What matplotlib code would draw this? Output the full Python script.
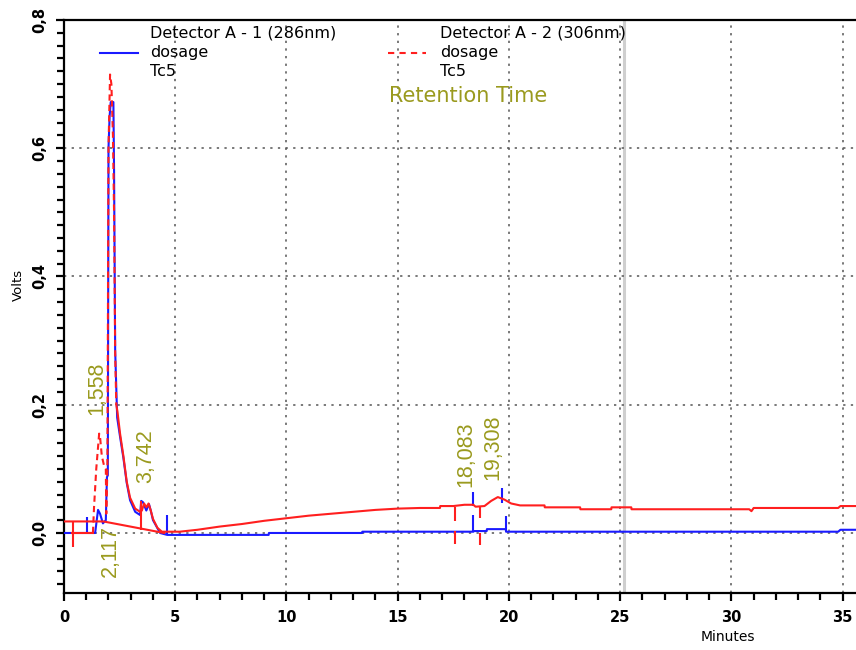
import numpy as np
import matplotlib
matplotlib.use("Agg")
import matplotlib.pyplot as plt
from matplotlib.lines import Line2D
from matplotlib.ticker import MultipleLocator, FuncFormatter

plt.rcParams['font.family'] = ['DejaVu Sans']

# Detector A - 1 (286 nm) trace
blue_t = [0.0, 1.40, 1.53, 1.62, 1.75, 1.88, 1.93, 1.97, 2.00, 2.05, 2.10, 2.22, 2.25, 2.30,
          2.39, 2.52, 2.67, 2.82, 2.97, 3.20, 3.42, 3.47, 3.55, 3.70, 3.82, 3.90, 4.00, 4.32,
          4.64, 9.20, 9.21, 13.40, 13.41, 18.40, 18.41, 19.00, 19.01, 19.86, 19.87, 34.80, 34.90, 35.70]
blue_v = [0.0, 0.0, 0.036, 0.030, 0.015, 0.020, 0.087, 0.090, 0.600, 0.650, 0.672, 0.672, 0.566, 0.285,
          0.180, 0.150, 0.117, 0.078, 0.051, 0.033, 0.028, 0.050, 0.048, 0.035, 0.045, 0.035, 0.020, 0.000,
          -0.003, -0.003, 0.0, 0.0, 0.002, 0.002, 0.003, 0.003, 0.006, 0.006, 0.002, 0.002, 0.005, 0.005]

# Detector A - 2 (306 nm) trace
red_t = [0.35, 1.30, 1.35, 1.45, 1.58, 1.62, 1.70, 1.80, 1.88, 1.90, 1.95, 2.00, 2.07, 2.13, 2.20,
         2.25, 2.30, 2.35, 2.40, 2.52, 2.67, 2.82, 2.97, 3.20, 3.42, 3.50, 3.60, 3.70, 3.80, 3.90,
         4.00, 4.20, 4.40, 5.20, 6.0, 7.0, 8.0, 9.0, 10.0, 11.0, 12.0, 13.0, 14.0, 15.0, 16.0, 16.9,
         16.91, 17.5, 18.0, 18.4, 18.5, 18.9, 19.2, 19.5, 19.8, 20.1, 20.5, 21.6, 21.61, 23.2, 23.21,
         24.6, 24.61, 25.5, 25.51, 30.8, 30.9, 31.0, 34.8, 34.9, 35.7]
red_v = [0.0, 0.0, 0.040, 0.100, 0.155, 0.150, 0.120, 0.105, 0.100, 0.030, 0.100, 0.600, 0.715, 0.700, 0.620,
         0.500, 0.280, 0.200, 0.190, 0.155, 0.120, 0.080, 0.055, 0.038, 0.033, 0.035, 0.046, 0.040, 0.046, 0.035,
         0.022, 0.008, 0.002, 0.002, 0.005, 0.010, 0.014, 0.019, 0.023, 0.027, 0.030, 0.033, 0.036, 0.038, 0.039, 0.039,
         0.042, 0.042, 0.044, 0.044, 0.041, 0.042, 0.050, 0.056, 0.052, 0.046, 0.043, 0.043, 0.040, 0.040, 0.037,
         0.037, 0.040, 0.040, 0.037, 0.037, 0.034, 0.039, 0.039, 0.042, 0.042]

# Integration baseline drawn under the first peak group
red_base_t = [0.0, 1.77, 4.5]
red_base_v = [0.018, 0.018, 0.0]

# Peak event markers: time, lower and upper value
blue_mark_t = [1.04, 4.64, 18.40, 18.40, 19.70, 19.86]
blue_mark_lo = [0.000, -0.003, 0.042, 0.003, 0.047, 0.003]
blue_mark_hi = [0.025, 0.028, 0.064, 0.028, 0.070, 0.027]
red_mark_t = [0.40, 3.47, 17.57, 17.57, 18.70, 18.70]
red_mark_lo = [-0.022, 0.005, 0.019, -0.017, 0.023, -0.019]
red_mark_hi = [0.018, 0.050, 0.041, 0.003, 0.042, 0.000]

# Retention time labels
peak_labels = ["1,558", "2,117", "3,742", "18,083", "19,308"]
peak_label_t = [1.49, 2.07, 3.69, 18.06, 19.28]
peak_label_v = [0.184, -0.069, 0.078, 0.072, 0.083]

cursor_t = 25.15

BLUE = "#1a1aff"
RED = "#ff1f1f"
OLIVE = "#9a9a1e"

W, H = 856, 650
fig = plt.figure(figsize=(W / 100, H / 100), dpi=100)
ax_l, ax_r, ax_top, ax_bot = 64, 856, 20, 593
ax = fig.add_axes([ax_l / W, 1 - ax_bot / H, (ax_r - ax_l) / W, (ax_bot - ax_top) / H])

ax.set_xlim(0, 35.6)
ax.set_ylim(-0.0936, 0.8)

ax.axvline(cursor_t, color="#cfcfcf", lw=2.2, zorder=1)

grid_kw = dict(color="#555555", lw=1.1, ls=(0, (1.5, 3.5)), zorder=1)
for gx in [5, 10, 15, 20, 25, 30, 35]:
    ax.axvline(gx, **grid_kw)
for gy in [0.0, 0.2, 0.4, 0.6]:
    ax.axhline(gy, **grid_kw)

lw = 1.5
ax.plot(blue_t, blue_v, color=BLUE, lw=lw, zorder=3)
ax.vlines(blue_mark_t, blue_mark_lo, blue_mark_hi, color=BLUE, lw=lw, zorder=3)

rt = np.array(red_t)
rv = np.array(red_v)
dash_zone = (rt >= 1.30) & (rt <= 2.35)
solid_a = rt <= 1.30
solid_b = rt >= 2.35
ax.plot(rt[solid_a], rv[solid_a], color=RED, lw=lw, zorder=4)
ax.plot(rt[dash_zone], rv[dash_zone], color=RED, lw=lw, ls=(0, (3, 2)), zorder=4)
ax.plot(rt[solid_b], rv[solid_b], color=RED, lw=lw, zorder=4)
ax.plot(red_base_t, red_base_v, color=RED, lw=lw, zorder=4)
ax.vlines(red_mark_t, red_mark_lo, red_mark_hi, color=RED, lw=lw, zorder=4)

label_font = ['Liberation Sans', 'DejaVu Sans']
for txt, t, v in zip(peak_labels, peak_label_t, peak_label_v):
    ax.text(t, v, txt, rotation=90, ha="center", va="bottom", color=OLIVE,
            fontsize=15.5, family=label_font, zorder=5)

# axes frame and ticks
for side in ["left", "bottom", "top"]:
    ax.spines[side].set_linewidth(1.6)
    ax.spines[side].set_color("black")
ax.spines["right"].set_visible(False)

ax.xaxis.set_major_locator(MultipleLocator(5))
ax.xaxis.set_minor_locator(MultipleLocator(1))
ax.yaxis.set_major_locator(MultipleLocator(0.2))
ax.yaxis.set_minor_locator(MultipleLocator(0.02))
ax.tick_params(axis="both", which="major", direction="out", length=6, width=1.6,
               labelsize=10.5, pad=6)
ax.tick_params(axis="both", which="minor", direction="out", length=5, width=1.6)
ax.tick_params(axis="y", labelrotation=90)
ax.xaxis.set_major_formatter(FuncFormatter(lambda x, p: f"{x:.0f}"))
ax.yaxis.set_major_formatter(FuncFormatter(lambda y, p: f"{y:.1f}".replace(".", ",")))
for lab in ax.get_yticklabels() + ax.get_xticklabels():
    lab.set_fontweight("semibold")
for lab in ax.get_yticklabels():
    lab.set_va("center")

fig.text(18 / W, 1 - 285 / H, "Volts", rotation=90, ha="center", va="center", fontsize=9.5)
fig.text(728 / W, 1 - 637 / H, "Minutes", ha="center", va="center", fontsize=10)

# legend block
leg_fs = 11.5
def px(x, y):
    return x / W, 1 - y / H

fig.text(*px(150, 33), "Detector A - 1 (286nm)", ha="left", va="center", fontsize=leg_fs)
fig.text(*px(150, 53), "dosage", ha="left", va="center", fontsize=leg_fs)
fig.text(*px(150, 72), "Tc5", ha="left", va="center", fontsize=leg_fs)
fig.lines.append(Line2D([100 / W, 138 / W], [1 - 53 / H] * 2, color=BLUE, lw=1.5,
                        transform=fig.transFigure))
fig.text(*px(440, 33), "Detector A - 2 (306nm)", ha="left", va="center", fontsize=leg_fs)
fig.text(*px(440, 53), "dosage", ha="left", va="center", fontsize=leg_fs)
fig.text(*px(440, 72), "Tc5", ha="left", va="center", fontsize=leg_fs)
fig.lines.append(Line2D([388 / W, 426 / W], [1 - 53 / H] * 2, color=RED, lw=1.5,
                        ls=(0, (3, 2.5)), transform=fig.transFigure))
fig.text(*px(389, 96), "Retention Time", ha="left", va="center", fontsize=15, color=OLIVE)

fig.savefig("out.png", dpi=100)
